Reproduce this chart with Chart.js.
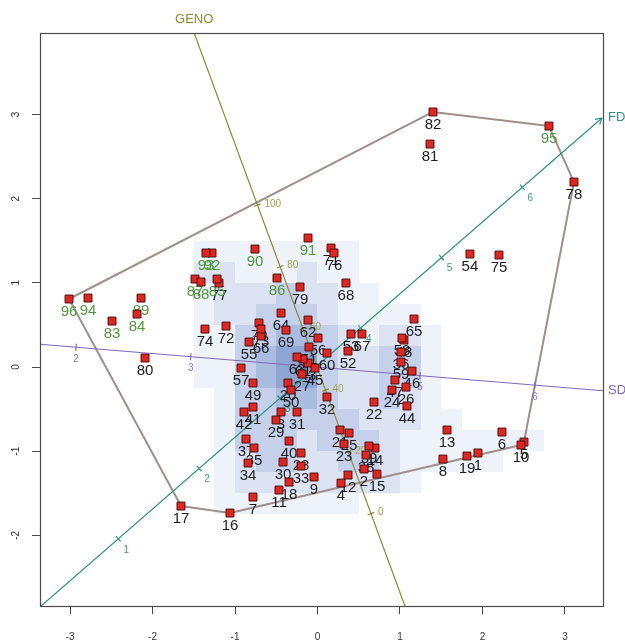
<!DOCTYPE html>
<html><head><meta charset="utf-8">
<script src="https://cdn.jsdelivr.net/npm/chart.js@4.4.1/dist/chart.umd.min.js"></script>
<style>html,body{margin:0;padding:0;background:#fff}</style>
</head><body>
<canvas id="c" width="625" height="642"></canvas>
<script>
// ---------- data ----------
const genotypes = ["1","2","3","4","5","6","7","8","9","10","11","12","13","14","15","16","17","18","19","20",
"21","22","23","24","25","26","27","28","29","30","31","32","33","34","35","36","37","38","39","40",
"41","42","43","44","45","46","47","48","49","50","51","52","53","54","55","56","57","58","59","60",
"61","62","63","64","65","66","67","68","69","70","71","72","73","74","75","76","77","78","79","80",
"81","82","83","84","85","86","87","88","89","90","91","92","93","94","95","96"];
const pc1 = [1.945,0.564,-0.442,0.285,2.503,2.236,-0.782,1.521,-0.042,2.467,
-0.467,0.370,1.570,0.697,0.721,-1.061,-1.655,-0.345,1.812,-0.358,
0.273,0.685,0.321,0.903,0.382,1.073,-0.188,-0.200,-0.503,-0.418,
-0.248,0.115,-0.200,-0.842,-0.770,1.012,-0.867,0.588,0.624,-0.345,
-0.782,-0.891,-0.115,1.085,-0.030,1.145,0.939,1.048,-0.782,-0.321,
-0.103,0.370,0.406,1.848,-0.830,0.006,-0.927,1.024,1.012,0.115,
-0.176,-0.115,-0.248,-0.442,1.170,-0.685,0.539,0.345,-0.382,-0.709,
0.164,-1.109,-0.685,-1.364,2.200,0.200,-1.194,3.109,-0.212,-2.091,
1.364,1.400,-2.491,-2.188,-1.218,-0.491,-1.485,-1.412,-2.139,-0.758,
-0.115,-1.279,-1.352,-2.782,2.806,-3.012];
const pc2 = [-1.021,-1.211,-0.534,-1.378,-0.891,-0.772,-1.544,-1.093,-1.306,-0.926,
-1.461,-1.283,-0.748,-0.962,-1.271,-1.734,-1.651,-1.366,-1.057,-0.190,
-0.748,-0.416,-0.914,-0.273,-0.784,-0.238,-0.083,-1.021,-0.629,-1.128,
-0.534,-0.356,-1.176,-1.140,-0.962,0.178,-0.855,-1.045,-0.938,-0.879,
-0.475,-0.534,0.048,-0.463,-0.012,-0.048,-0.154,0.321,-0.190,-0.273,
0.238,0.190,0.392,1.342,0.297,0.344,-0.012,0.344,0.059,0.166,
0.095,0.558,0.119,0.641,0.570,0.368,0.392,0.998,0.439,0.523,
1.413,0.487,0.451,0.451,1.330,1.354,0.998,2.197,0.950,0.107,
2.648,3.029,0.546,0.629,1.045,1.057,1.045,1.010,0.819,1.401,
1.532,1.354,1.354,0.819,2.862,0.808];
const checkGenotypes = ["83","84","85","86","87","88","89","90","91","92","93","94","95","96"];

const xTicks = [-3,-2,-1,0,1,2,3];
const yTicks = [-2,-1,0,1,2,3];

// density background (levels 0-5), grid cells of 0.25 units, first row at top
const heatRows = [
"0011111111000000000",
"0022111211000000000",
"0012223221100000000",
"0012233321111000000",
"0011334432122100000",
"0011345532233100000",
"0011345532233100000",
"0001334432232100000",
"0001333333222110000",
"0001333233321111111",
"0001233223321111100",
"0001222222221000000",
"0001111111000000000"
];
const heatX0 = -2.0, heatYTop = 1.5, heatCell = 0.25;

// calibrated biplot axes (trait values along each axis)
const genoTicks = [0,20,40,60,80,100];
const fdTicks = [1,2,3,4,5,6];
const sdTicks = [2,3,4,5,6];
const genoCalib = {origin:[0.648,-1.740], step:[-0.013758,0.036639], range:[-40,170]};
const fdCalib = {origin:[-3.394,-2.8746], step:[0.9794,0.8348], range:[0.0,6.986]};
const sdCalib = {origin:[-5.708,0.4602], step:[1.3903,-0.11247], range:[1.6,6.594]};

// ---------- styles ----------
const FAMILY = '"Liberation Sans", Arial, Helvetica, sans-serif';
const heatColors = [null,'#EEF2F9','#DCE3F2','#C5D1EA','#AABCE0','#8FA5D3'];
const axesStyle = [
  {name:'GENO', ticks:genoTicks, cal:genoCalib, color:'#8C8C2C', tickText:'#A2A24A', off:[7,-1], align:'left', arrow:false, title:'top'},
  {name:'FD', ticks:fdTicks, cal:fdCalib, color:'#2C9480', tickText:'#3A9A86', off:[8,11], align:'center', arrow:true, title:'right'},
  {name:'SD', ticks:sdTicks, cal:sdCalib, color:'#8268B4', tickText:'#8A72BA', off:[0,12], align:'center', arrow:false, title:'right'}
];

function hull(pts){
  const p = pts.slice().sort((a,b)=>a[0]-b[0]||a[1]-b[1]);
  const cross=(o,a,b)=>(a[0]-o[0])*(b[1]-o[1])-(a[1]-o[1])*(b[0]-o[0]);
  const lo=[],up=[];
  for(const q of p){while(lo.length>=2&&cross(lo[lo.length-2],lo[lo.length-1],q)<=0)lo.pop();lo.push(q);}
  for(let i=p.length-1;i>=0;i--){const q=p[i];while(up.length>=2&&cross(up[up.length-2],up[up.length-1],q)<=0)up.pop();up.push(q);}
  up.pop();lo.pop();return lo.concat(up);
}

const drawPlugin = {
  id:'biplot',
  beforeDatasetsDraw(chart){
    const {ctx, chartArea:a, scales:{x,y}} = chart;
    ctx.save();
    ctx.beginPath(); ctx.rect(a.left,a.top,a.right-a.left,a.bottom-a.top); ctx.clip();
    heatRows.forEach((row,r)=>{
      for(let c=0;c<row.length;c++){
        const lv=+row[c]; if(!lv) continue;
        const x0=Math.round(x.getPixelForValue(heatX0+c*heatCell)), x1=Math.round(x.getPixelForValue(heatX0+(c+1)*heatCell));
        const y0=Math.round(y.getPixelForValue(heatYTop-r*heatCell)), y1=Math.round(y.getPixelForValue(heatYTop-(r+1)*heatCell));
        ctx.fillStyle=heatColors[lv]; ctx.fillRect(x0,y0,x1-x0,y1-y0);
      }
    });
    const h = hull(pc1.map((v,i)=>[v,pc2[i]]));
    ctx.strokeStyle='#9E918B'; ctx.lineWidth=2; ctx.lineJoin='round';
    ctx.beginPath();
    h.forEach((p,i)=>{const px=x.getPixelForValue(p[0]),py=y.getPixelForValue(p[1]); i?ctx.lineTo(px,py):ctx.moveTo(px,py);});
    ctx.closePath(); ctx.stroke();
    axesStyle.forEach(ax=>{
      const P=v=>[x.getPixelForValue(ax.cal.origin[0]+ax.cal.step[0]*v), y.getPixelForValue(ax.cal.origin[1]+ax.cal.step[1]*v)];
      const A=P(ax.cal.range[0]), B=P(ax.cal.range[1]);
      const dx=B[0]-A[0], dy=B[1]-A[1], L=Math.hypot(dx,dy), ux=dx/L, uy=dy/L, nx=-uy, ny=ux;
      ctx.strokeStyle=ax.color; ctx.lineWidth=1.2;
      ctx.beginPath(); ctx.moveTo(A[0],A[1]); ctx.lineTo(B[0],B[1]); ctx.stroke();
      if(ax.arrow){
        const s=7, ang=Math.PI/6;
        ctx.beginPath();
        ctx.moveTo(B[0]-s*(ux*Math.cos(ang)-uy*Math.sin(ang)), B[1]-s*(uy*Math.cos(ang)+ux*Math.sin(ang)));
        ctx.lineTo(B[0],B[1]);
        ctx.lineTo(B[0]-s*(ux*Math.cos(ang)+uy*Math.sin(ang)), B[1]-s*(uy*Math.cos(ang)-ux*Math.sin(ang)));
        ctx.stroke();
      }
      ctx.font='10px '+FAMILY; ctx.fillStyle=ax.tickText; ctx.textAlign=ax.align; ctx.textBaseline='middle';
      ax.ticks.forEach(t=>{
        const p=P(t);
        ctx.beginPath(); ctx.moveTo(p[0]-nx*3.5,p[1]-ny*3.5); ctx.lineTo(p[0]+nx*3.5,p[1]+ny*3.5); ctx.stroke();
        ctx.fillText(String(t), p[0]+ax.off[0], p[1]+ax.off[1]);
      });
    });
    ctx.restore();
    ctx.save();
    ctx.font='13px '+FAMILY; ctx.textBaseline='middle';
    axesStyle.forEach(ax=>{
      ctx.fillStyle=ax.color;
      if(ax.title==='top'){
        const v=(y.max-ax.cal.origin[1])/ax.cal.step[1];
        const px=x.getPixelForValue(ax.cal.origin[0]+ax.cal.step[0]*v);
        ctx.textAlign='center'; ctx.fillText(ax.name, px, a.top-14);
      } else {
        const v=(x.max-ax.cal.origin[0])/ax.cal.step[0];
        const py=y.getPixelForValue(ax.cal.origin[1]+ax.cal.step[1]*v);
        ctx.textAlign='left'; ctx.fillText(ax.name, a.right+5, py);
      }
    });
    const meta=chart.getDatasetMeta(0);
    ctx.font='15px '+FAMILY; ctx.textAlign='center'; ctx.textBaseline='middle';
    meta.data.forEach((el,i)=>{
      ctx.fillStyle = checkGenotypes.includes(genotypes[i]) ? '#52983C' : '#1E1E1E';
      ctx.fillText(genotypes[i], el.x, el.y+12.5);
    });
    ctx.restore();
  },
  afterDatasetsDraw(chart){
    const {ctx, chartArea:a, scales:{y}} = chart;
    ctx.save();
    ctx.strokeStyle='#4A4A4A'; ctx.lineWidth=1.2;
    ctx.strokeRect(a.left+0.5,a.top+0.5,a.right-a.left,a.bottom-a.top);
    ctx.fillStyle='#333'; ctx.font='10px '+FAMILY; ctx.textAlign='center'; ctx.textBaseline='middle';
    yTicks.forEach(v=>{
      const py=y.getPixelForValue(v);
      ctx.save(); ctx.translate(16,py); ctx.rotate(-Math.PI/2); ctx.fillText(String(v),0,0); ctx.restore();
    });
    ctx.restore();
  }
};

new Chart(document.getElementById('c'), {
  type:'scatter',
  data:{datasets:[{
    data: pc1.map((v,i)=>({x:v,y:pc2[i]})),
    pointStyle:'rect', radius:5.6, hoverRadius:5.6,
    backgroundColor:'#E2261F', borderColor:'#4A1010', borderWidth:1
  }]},
  options:{
    responsive:false, animation:false, devicePixelRatio:1,
    layout:{padding:{top:33,right:22,left:0,bottom:0}},
    plugins:{legend:{display:false}, tooltip:{enabled:false}},
    scales:{
      x:{type:'linear', min:-3.364, max:3.461,
        afterBuildTicks:s=>{s.ticks=xTicks.map(v=>({value:v}));},
        afterFit:s=>{s.height=36;},
        grid:{display:true, drawOnChartArea:false, drawTicks:true, tickLength:8, tickColor:'#4A4A4A', color:'#4A4A4A'},
        border:{display:false},
        ticks:{color:'#333', font:{size:10, family:FAMILY}, padding:17, maxRotation:0, autoSkip:false}
      },
      y:{type:'linear', min:-2.838, max:3.967,
        afterBuildTicks:s=>{s.ticks=yTicks.map(v=>({value:v}));},
        afterFit:s=>{s.width=40;},
        grid:{display:true, drawOnChartArea:false, drawTicks:true, tickLength:8, tickColor:'#4A4A4A', color:'#4A4A4A'},
        border:{display:false},
        ticks:{color:'rgba(0,0,0,0)', font:{size:10, family:FAMILY}, padding:4, autoSkip:false}
      }
    }
  },
  plugins:[drawPlugin]
});
</script>
</body></html>
